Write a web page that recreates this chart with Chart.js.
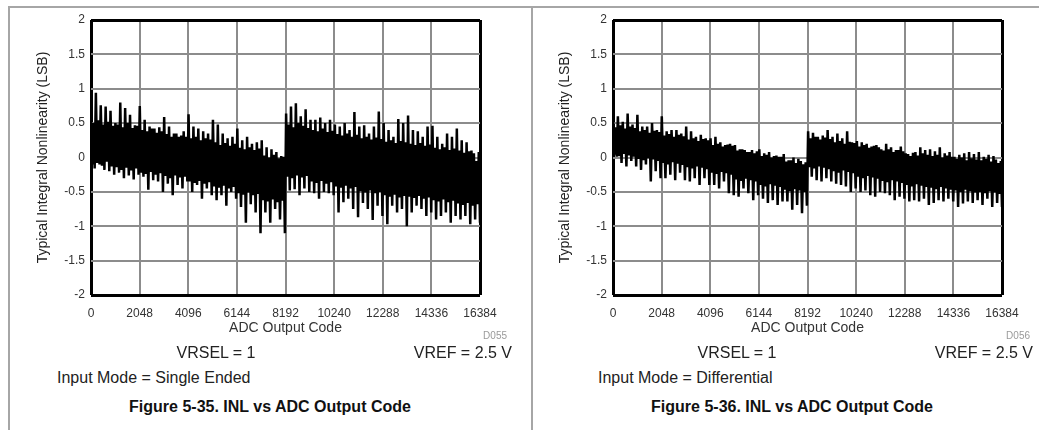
<!DOCTYPE html>
<html>
<head>
<meta charset="utf-8">
<script src="https://cdn.jsdelivr.net/npm/chart.js@4/dist/chart.umd.min.js"></script>
<style>
  html, body { margin: 0; padding: 0; background: #fff; overflow: hidden; }
  body { width: 1039px; height: 430px; position: relative; font-family: "Liberation Sans", Arial, sans-serif; }
  canvas { position: absolute; top: 0; }
  .t { position: absolute; white-space: nowrap; color: #222; font-size: 16px; line-height: 20px; height: 20px; }
  .c { transform: translateX(-50%); }
  .r { transform: translateX(-100%); }
  .cap { font-weight: bold; color: #111; }
  .code { font-size: 10px; line-height: 12px; height: 12px; color: #9a9a9a; }
  .line { position: absolute; background: #a6a6a6; }
</style>
</head>
<body>
<div class="line" style="left:8px; top:6px; width:1031px; height:2px;"></div>
<div class="line" style="left:8px; top:6px; width:2px; height:424px;"></div>
<div class="line" style="left:531px; top:6px; width:2px; height:424px;"></div>

<canvas id="chartSE" width="520" height="337" style="left:0px; width:520px; height:337px;"></canvas>
<canvas id="chartDiff" width="517" height="337" style="left:522px; width:517px; height:337px;"></canvas>

<div class="t code r" style="left:507px; top:330px;">D055</div>
<div class="t c" style="left:216px; top:343px;">VRSEL = 1</div>
<div class="t r" style="left:512px; top:343px;">VREF = 2.5 V</div>
<div class="t" style="left:57px; top:368px;">Input Mode = Single Ended</div>
<div class="t c cap" style="left:270px; top:397px;">Figure 5-35. INL vs ADC Output Code</div>

<div class="t code r" style="left:1030px; top:330px;">D056</div>
<div class="t c" style="left:737px; top:343px;">VRSEL = 1</div>
<div class="t r" style="left:1033px; top:343px;">VREF = 2.5 V</div>
<div class="t" style="left:598px; top:368px;">Input Mode = Differential</div>
<div class="t c cap" style="left:792px; top:397px;">Figure 5-36. INL vs ADC Output Code</div>

<script>
// ---- data (INL in LSB) ----
// upper / lower arrays: successive local maxima and minima of the INL trace
const xTickLabels = ['0', '2048', '4096', '6144', '8192', '10240', '12288', '14336', '16384'];
const yTickLabels = ['-2', '-1.5', '-1', '-0.5', '0', '0.5', '1', '1.5', '2'];
const xTitle = 'ADC Output Code';
const yTitle = 'Typical Integral Nonlinearity (LSB)';
const codeMax = 16384;

const singleEndedUpper = [
  0.55, 0.50, 0.94, 0.54, 0.76, 0.48, 0.74, 0.52, 0.68, 0.46,
  0.50, 0.48, 0.80, 0.44, 0.72, 0.50, 0.62, 0.43, 0.47, 0.46,
  0.75, 0.40, 0.55, 0.38, 0.45, 0.42, 0.42, 0.36, 0.44, 0.38,
  0.59, 0.34, 0.45, 0.30, 0.35, 0.35, 0.30, 0.32, 0.38, 0.30,
  0.63, 0.28, 0.45, 0.30, 0.42, 0.25, 0.38, 0.28, 0.35, 0.26,
  0.55, 0.22, 0.48, 0.18, 0.35, 0.21, 0.28, 0.17, 0.30, 0.20,
  0.42, 0.14, 0.25, 0.12, 0.30, 0.15, 0.20, 0.11, 0.22, 0.13,
  0.25, 0.03, 0.15, 0.00, 0.12, 0.04, 0.08, -0.01, 0.02, 0.01,
  0.64, 0.48, 0.74, 0.44, 0.79, 0.50, 0.60, 0.46, 0.70, 0.43,
  0.55, 0.40, 0.55, 0.38, 0.58, 0.42, 0.50, 0.37, 0.55, 0.39,
  0.48, 0.34, 0.45, 0.32, 0.50, 0.35, 0.40, 0.30, 0.66, 0.33,
  0.45, 0.28, 0.47, 0.30, 0.35, 0.26, 0.45, 0.29, 0.67, 0.27,
  0.50, 0.23, 0.40, 0.25, 0.30, 0.21, 0.56, 0.24, 0.50, 0.22,
  0.61, 0.20, 0.40, 0.18, 0.38, 0.21, 0.30, 0.17, 0.45, 0.19,
  0.46, 0.14, 0.30, 0.12, 0.20, 0.15, 0.35, 0.11, 0.30, 0.13,
  0.42, 0.10, 0.25, 0.07, 0.22, 0.09, 0.10, 0.06, -0.05, 0.08
];
const singleEndedLower = [
  -0.10, -0.16, -0.08, -0.10, -0.12, -0.18, -0.06, -0.20, -0.13, -0.25,
  -0.14, -0.22, -0.18, -0.30, -0.15, -0.26, -0.19, -0.32, -0.16, -0.25,
  -0.22, -0.28, -0.24, -0.47, -0.21, -0.33, -0.25, -0.35, -0.23, -0.50,
  -0.27, -0.38, -0.30, -0.55, -0.26, -0.40, -0.29, -0.45, -0.28, -0.35,
  -0.35, -0.50, -0.37, -0.40, -0.34, -0.60, -0.38, -0.45, -0.36, -0.55,
  -0.42, -0.62, -0.44, -0.55, -0.41, -0.70, -0.45, -0.50, -0.43, -0.60,
  -0.52, -0.72, -0.54, -0.95, -0.51, -0.68, -0.55, -0.80, -0.53, -1.10,
  -0.62, -0.80, -0.64, -0.95, -0.61, -0.75, -0.65, -0.90, -0.63, -1.10,
  -0.28, -0.48, -0.30, -0.46, -0.26, -0.55, -0.29, -0.45, -0.27, -0.50,
  -0.35, -0.52, -0.37, -0.60, -0.34, -0.50, -0.38, -0.52, -0.36, -0.55,
  -0.42, -0.80, -0.44, -0.65, -0.41, -0.60, -0.45, -0.75, -0.43, -0.87,
  -0.49, -0.66, -0.51, -0.75, -0.48, -0.91, -0.52, -0.70, -0.50, -0.85,
  -0.55, -0.97, -0.57, -0.70, -0.54, -0.80, -0.58, -0.75, -0.56, -1.00,
  -0.57, -0.80, -0.59, -0.70, -0.56, -0.75, -0.60, -0.85, -0.58, -0.80,
  -0.62, -0.90, -0.64, -0.85, -0.61, -0.80, -0.65, -0.95, -0.63, -0.85,
  -0.67, -0.90, -0.69, -0.85, -0.66, -0.97, -0.70, -0.90, -0.68, -0.95
];

const differentialUpper = [
  0.62, 0.44, 0.60, 0.47, 0.52, 0.42, 0.64, 0.45, 0.48, 0.43,
  0.62, 0.38, 0.45, 0.40, 0.45, 0.36, 0.50, 0.39, 0.40, 0.37,
  0.60, 0.32, 0.38, 0.34, 0.40, 0.30, 0.40, 0.33, 0.35, 0.31,
  0.45, 0.26, 0.38, 0.28, 0.30, 0.24, 0.33, 0.27, 0.28, 0.25,
  0.28, 0.18, 0.30, 0.20, 0.22, 0.16, 0.18, 0.19, 0.20, 0.17,
  0.18, 0.10, 0.12, 0.12, 0.11, 0.08, 0.08, 0.11, 0.06, 0.09,
  0.12, 0.02, 0.06, 0.04, 0.08, 0.00, 0.02, 0.03, 0.01, 0.01,
  0.05, -0.06, -0.04, -0.04, 0.00, -0.08, -0.02, -0.05, -0.10, -0.07,
  0.38, 0.28, 0.36, 0.30, 0.30, 0.26, 0.32, 0.29, 0.40, 0.27,
  0.30, 0.22, 0.35, 0.24, 0.28, 0.20, 0.38, 0.23, 0.22, 0.21,
  0.24, 0.16, 0.22, 0.18, 0.20, 0.14, 0.16, 0.17, 0.18, 0.15,
  0.12, 0.10, 0.20, 0.12, 0.15, 0.08, 0.11, 0.11, 0.16, 0.09,
  0.06, 0.05, 0.02, 0.07, 0.08, 0.03, 0.15, 0.06, 0.11, 0.04,
  0.12, 0.02, 0.09, 0.04, 0.15, 0.00, 0.06, 0.03, 0.08, 0.01,
  0.01, -0.02, 0.04, 0.00, 0.06, -0.04, 0.08, -0.01, 0.05, -0.03,
  0.08, -0.04, 0.01, -0.02, 0.04, -0.06, 0.02, -0.03, -0.08, -0.05
];
const differentialLower = [
  0.04, 0.01, 0.02, -0.08, 0.05, -0.13, 0.03, -0.05, 0.01, -0.13,
  -0.02, -0.18, -0.04, -0.10, -0.01, -0.35, -0.03, -0.20, -0.05, -0.30,
  -0.08, -0.30, -0.10, -0.25, -0.07, -0.33, -0.09, -0.22, -0.11, -0.33,
  -0.14, -0.35, -0.16, -0.30, -0.13, -0.40, -0.15, -0.30, -0.17, -0.40,
  -0.22, -0.40, -0.24, -0.45, -0.21, -0.35, -0.23, -0.52, -0.25, -0.55,
  -0.32, -0.57, -0.34, -0.45, -0.31, -0.52, -0.33, -0.62, -0.35, -0.55,
  -0.40, -0.60, -0.42, -0.66, -0.39, -0.62, -0.41, -0.69, -0.43, -0.64,
  -0.47, -0.64, -0.49, -0.76, -0.46, -0.69, -0.48, -0.81, -0.50, -0.70,
  -0.14, -0.28, -0.16, -0.33, -0.13, -0.35, -0.15, -0.30, -0.17, -0.35,
  -0.20, -0.38, -0.22, -0.40, -0.19, -0.42, -0.21, -0.50, -0.23, -0.45,
  -0.28, -0.50, -0.30, -0.48, -0.27, -0.55, -0.29, -0.57, -0.31, -0.50,
  -0.34, -0.52, -0.36, -0.55, -0.33, -0.62, -0.35, -0.57, -0.37, -0.60,
  -0.40, -0.64, -0.42, -0.62, -0.39, -0.64, -0.41, -0.60, -0.43, -0.69,
  -0.44, -0.66, -0.46, -0.62, -0.43, -0.64, -0.45, -0.60, -0.47, -0.64,
  -0.48, -0.72, -0.50, -0.67, -0.47, -0.64, -0.49, -0.66, -0.51, -0.62,
  -0.50, -0.69, -0.52, -0.60, -0.49, -0.72, -0.51, -0.66, -0.53, -0.72
];

// ---- chart building ----
const FONT = '"Liberation Sans", Arial, sans-serif';
const GRID_GRAY = '#8c8c8c';

// interleave maxima and minima into one trace over the code range
function toPoints(upper, lower) {
  const n = upper.length * 2;
  const step = codeMax / (n - 1);
  const pts = [];
  for (let i = 0; i < upper.length; i++) {
    pts.push({ x: (2 * i) * step, y: upper[i] });
    pts.push({ x: (2 * i + 1) * step, y: lower[i] });
  }
  return pts;
}

function edgeColor(ctx) {
  return (ctx.index === 0 || ctx.index === 8) ? '#000' : GRID_GRAY;
}
function edgeWidth(ctx) {
  return (ctx.index === 0 || ctx.index === 8) ? 3 : 2;
}

function makeChart(id, upper, lower, rightPad) {
  return new Chart(document.getElementById(id), {
    type: 'line',
    data: {
      datasets: [{
        data: toPoints(upper, lower),
        borderColor: '#000',
        borderWidth: 2.5,
        pointRadius: 0,
        tension: 0,
        fill: false
      }]
    },
    options: {
      responsive: false,
      animation: false,
      events: [],
      layout: { padding: { left: 35, top: 20, right: rightPad, bottom: 0 } },
      plugins: { legend: { display: false }, tooltip: { enabled: false } },
      scales: {
        x: {
          type: 'linear',
          min: 0,
          max: codeMax,
          afterFit: (s) => { s.height = 42; },
          afterBuildTicks: (s) => { s.ticks = xTickLabels.map(t => ({ value: Number(t) })); },
          ticks: {
            callback: (v, i) => xTickLabels[i],
            font: { family: FONT, size: 12 },
            color: '#333',
            padding: 11,
            maxRotation: 0,
            autoSkip: false
          },
          grid: { color: edgeColor, lineWidth: edgeWidth, drawTicks: false },
          border: { display: false },
          title: {
            display: true,
            text: xTitle,
            font: { family: FONT, size: 14 },
            color: '#333',
            padding: 0
          }
        },
        y: {
          type: 'linear',
          min: -2,
          max: 2,
          afterFit: (s) => { s.width = 56; },
          afterBuildTicks: (s) => { s.ticks = yTickLabels.map(t => ({ value: Number(t) })); },
          ticks: {
            callback: (v, i) => yTickLabels[i],
            font: { family: FONT, size: 12 },
            color: '#333',
            padding: 6,
            autoSkip: false
          },
          grid: { color: edgeColor, lineWidth: edgeWidth, drawTicks: false },
          border: { display: false },
          title: {
            display: true,
            text: yTitle,
            font: { family: FONT, size: 14 },
            color: '#222',
            padding: 0
          }
        }
      }
    }
  });
}

makeChart('chartSE', singleEndedUpper, singleEndedLower, 40);
makeChart('chartDiff', differentialUpper, differentialLower, 37);
</script>
</body>
</html>
